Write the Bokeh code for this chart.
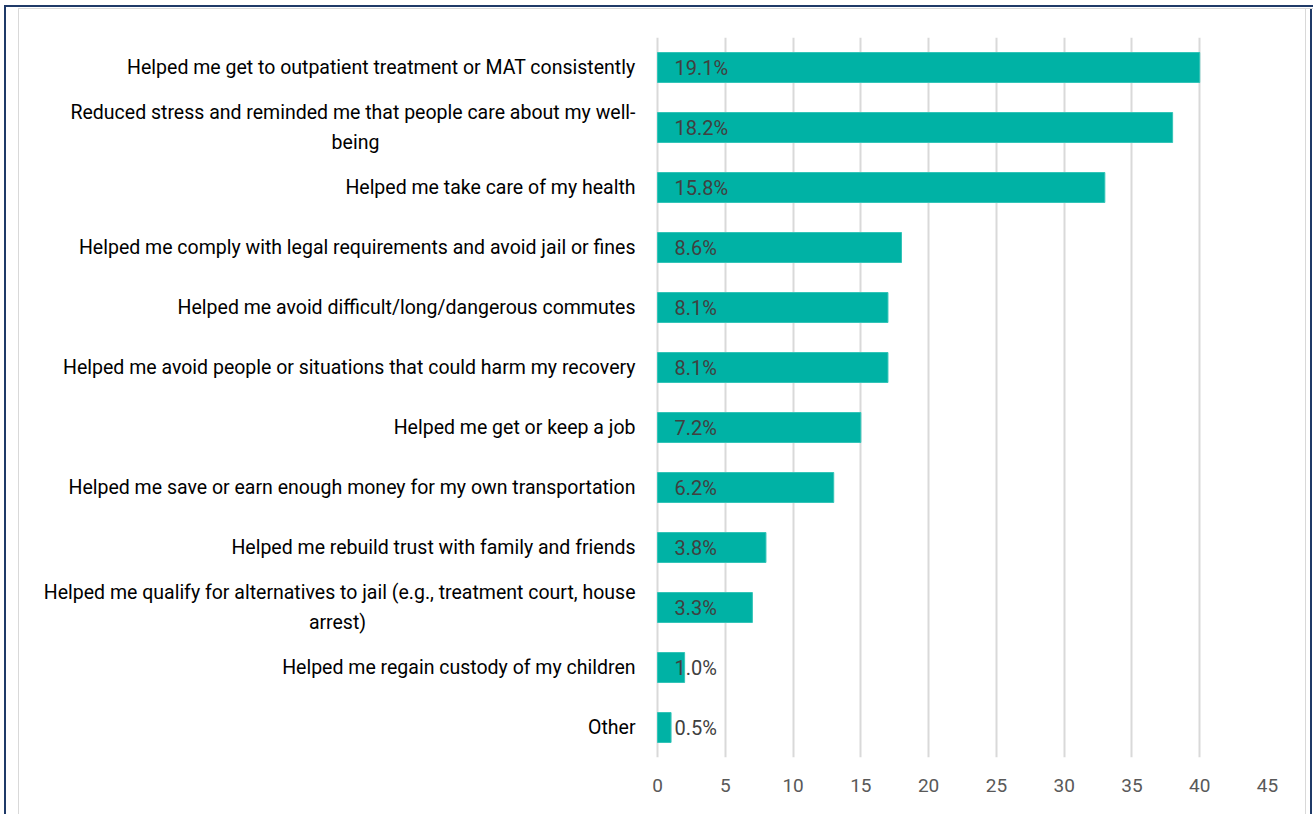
from bokeh.plotting import figure
from bokeh.models import Range1d, FactorRange, FixedTicker, ColumnDataSource
from bokeh.core.properties import value
from bokeh.embed import file_html
from bokeh.resources import INLINE

# ---- data ----
categories = [
    "Helped me get to outpatient treatment or MAT consistently",
    "Reduced stress and reminded me that people care about my well-\nbeing",
    "Helped me take care of my health",
    "Helped me comply with legal requirements and avoid jail or fines",
    "Helped me avoid difficult/long/dangerous commutes",
    "Helped me avoid people or situations that could harm my recovery",
    "Helped me get or keep a job",
    "Helped me save or earn enough money for my own transportation",
    "Helped me rebuild trust with family and friends",
    "Helped me qualify for alternatives to jail (e.g., treatment court, house\narrest)",
    "Helped me regain custody of my children",
    "Other",
]
counts = [40, 38, 33, 18, 17, 17, 15, 13, 8, 7, 2, 1]
pct_labels = ["19.1%", "18.2%", "15.8%", "8.6%", "8.1%", "8.1%", "7.2%",
              "6.2%", "3.8%", "3.3%", "1.0%", "0.5%"]
x_ticks = [0, 5, 10, 15, 20, 25, 30, 35, 40, 45]
x_max = 45

FONT = "Roboto"
BAR = "#00B2A5"
NAVY = "#1F3A68"

# layout (pixels)
W, H = 1313, 814
FRAME_L, ZERO_PX, FRAME_R, FRAME_T, FRAME_B = 20, 657, 1267, 37, 757
px_per_unit = (FRAME_R - ZERO_PX) / x_max
x_start = -(ZERO_PX - FRAME_L) / px_per_unit

p = figure(width=W, height=H,
           y_range=FactorRange(factors=list(reversed(categories))),
           x_range=Range1d(x_start, x_max),
           output_backend="svg", toolbar_location=None,
           min_border_left=FRAME_L, min_border_right=W - FRAME_R,
           min_border_top=FRAME_T, min_border_bottom=H - FRAME_B)
p.styles = {
    "background-color": "white",
    "box-shadow": (
        f"inset 4px 5px 0 0 #ffffff, inset 6px 7px 0 0 {NAVY}, "
        f"inset 18px 8px 0 0 #ffffff, inset 19px 9px 0 0 #D9D9D9, "
        f"inset -1px 0 0 0 #ffffff, inset -3px 0 0 0 {NAVY}, "
        f"inset -7px 0 0 0 #ffffff, inset -8px 0 0 0 #D9D9D9"
    ),
}
p.outline_line_color = None
p.background_fill_color = None
p.border_fill_color = None

p.hbar(y=categories, right=counts, left=0, height=0.5,
       fill_color=BAR, line_color="#33C4B8", line_width=1)

p.text(x=[0] * len(categories), y=categories, text=pct_labels,
       x_offset=17, text_align="left", text_baseline="middle",
       text_font=value(FONT), text_font_size="20px", text_color="#404040")

# category labels (right-aligned; wrapped second lines centred)
wrap_centres = {1: -302, 9: -320}
lx, ly, lt, lxo, lyo, la = [], [], [], [], [], []
for i, cat in enumerate(categories):
    lines = cat.split("\n")
    if len(lines) == 1:
        lx.append(0); ly.append(cat); lt.append(cat)
        lxo.append(-22); lyo.append(0); la.append("right")
    else:
        lx.append(0); ly.append(cat); lt.append(lines[0])
        lxo.append(-22); lyo.append(-15); la.append("right")
        lx.append(0); ly.append(cat); lt.append(lines[1])
        lxo.append(wrap_centres[i]); lyo.append(15); la.append("center")
lsrc = ColumnDataSource(dict(x=lx, y=ly, text=lt, xo=lxo, yo=lyo, align=la))
p.text(x="x", y="y", text="text", source=lsrc, x_offset="xo", y_offset="yo",
       text_align="align", text_baseline="middle", text_font=value(FONT),
       text_font_size="19.5px", text_color="#000000")

p.yaxis.visible = False
p.ygrid.grid_line_color = None
p.xgrid.grid_line_color = "#D9D9D9"
p.xgrid.grid_line_width = 2
p.xaxis.ticker = FixedTicker(ticks=x_ticks)
p.xaxis.axis_line_color = None
p.xaxis.major_tick_line_color = None
p.xaxis.minor_tick_line_color = None
p.xaxis.major_tick_out = 0
p.xaxis.major_label_standoff = 21
p.xaxis.major_label_text_font = FONT
p.xaxis.major_label_text_font_size = "19px"
p.xaxis.major_label_text_color = "#595959"

open("out.html", "w").write(file_html(p, INLINE))
